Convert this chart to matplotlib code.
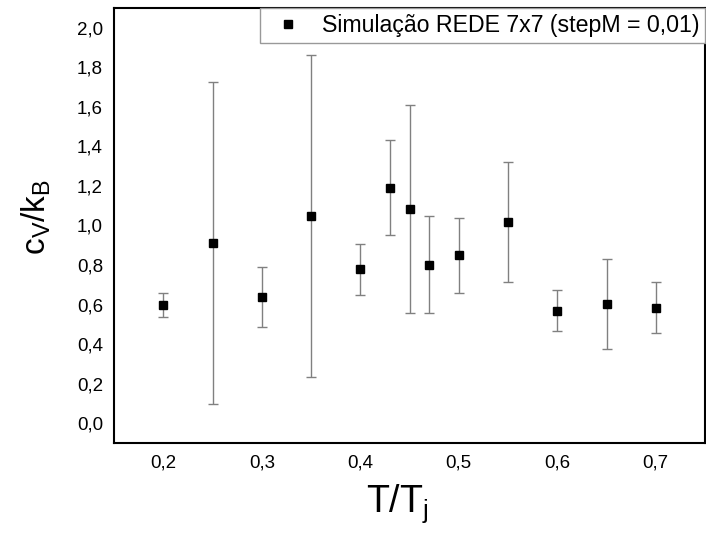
# calor especifico vs temperatura reduzida, rede 7x7

import matplotlib
matplotlib.use('Agg')
import matplotlib.pyplot as plt

plt.rcParams['font.family'] = ['Liberation Sans', 'DejaVu Sans']
plt.rcParams['mathtext.fontset'] = 'custom'
plt.rcParams['mathtext.rm'] = 'Liberation Sans'
plt.rcParams['mathtext.it'] = 'Liberation Sans'
plt.rcParams['mathtext.default'] = 'regular'

# dados
temperatura = [0.20, 0.25, 0.30, 0.35, 0.40, 0.43, 0.45, 0.47, 0.50, 0.55, 0.60, 0.65, 0.70]
cv = [0.598, 0.911, 0.639, 1.047, 0.778, 1.192, 1.085, 0.802, 0.849, 1.017, 0.568, 0.603, 0.583]
erro = [0.063, 0.813, 0.153, 0.814, 0.129, 0.238, 0.526, 0.247, 0.189, 0.302, 0.104, 0.229, 0.129]

x_ticks = [0.2, 0.3, 0.4, 0.5, 0.6, 0.7]
y_ticks = [0.0, 0.2, 0.4, 0.6, 0.8, 1.0, 1.2, 1.4, 1.6, 1.8, 2.0]

fig = plt.figure(figsize=(7.06, 5.38), dpi=100)
ax = fig.add_axes([114/706, 95/538, 591/706, 435/538])

ax.errorbar(temperatura, cv, yerr=erro, fmt='none', ecolor='#808080',
            elinewidth=1, capsize=3.6, capthick=1)
ax.plot(temperatura, cv, 's', color='black', markersize=6,
        label='Simulação REDE 7x7 (stepM = 0,01)')

ax.set_xlim(0.15, 0.75)
ax.set_ylim(-0.1, 2.1)
ax.set_xticks(x_ticks)
ax.set_xticklabels([('%.1f' % v).replace('.', ',') for v in x_ticks])
ax.set_yticks(y_ticks)
ax.set_yticklabels([('%.1f' % v).replace('.', ',') for v in y_ticks])
ax.tick_params(length=0, labelsize=13.5, pad=8)

for s in ax.spines.values():
    s.set_linewidth(1.5)
    s.set_color('black')

ax.set_xlabel(r'$T/T_j$', fontsize=27)
ax.set_ylabel(r'$c_V/k_B$', fontsize=24)
ax.xaxis.set_label_coords(0.48, -0.09)
ax.yaxis.set_label_coords(-0.103, 0.52)

leg = ax.legend(loc='upper right', borderaxespad=0, fontsize=16.7, fancybox=False,
                framealpha=1, edgecolor='#999999', handletextpad=0.5,
                borderpad=0.25, handlelength=1.9)
leg.get_frame().set_linewidth(1)

plt.savefig('out.png', dpi=100)
